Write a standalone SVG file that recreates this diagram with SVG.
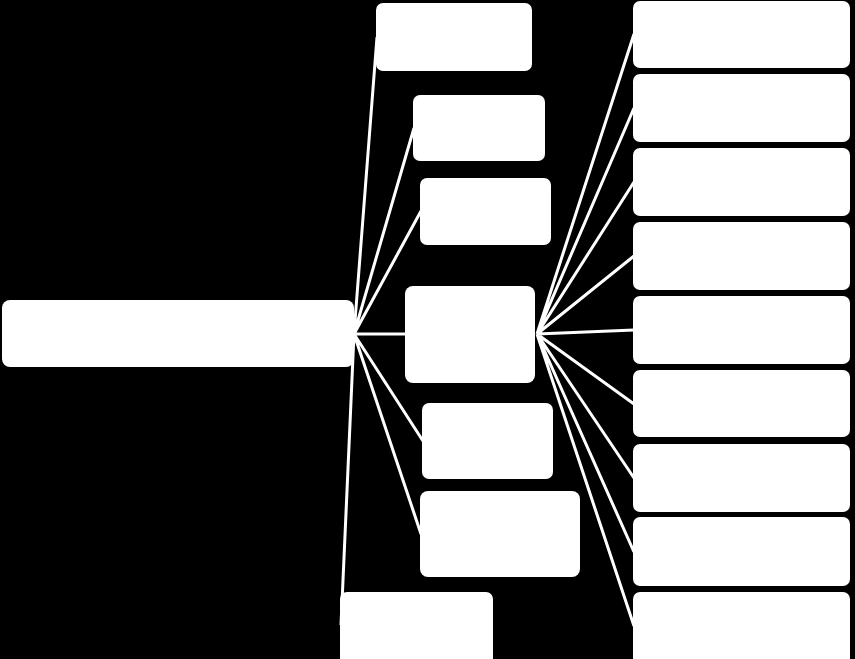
<svg xmlns="http://www.w3.org/2000/svg" width="855" height="659" viewBox="0 0 855 659">
<style>
.n{fill:#fff;stroke:none}
.c{stroke:#fff;stroke-width:3;fill:none}
</style>
<rect width="855" height="659" fill="#000"/>
<g id="connectors">
<path class="c" d="M354 334L377 37M354 334L414 128M354 334L421 211M354 334L406 334M354 334L423 441M354 334L421 534M354 334L341 625"/>
<path class="c" d="M537 334L634 34M537 334L634 108M537 334L634 182M537 334L634 256M537 334L634 330M537 334L634 404M537 334L634 478M537 334L634 552M537 334L634 626"/>
</g>
<g id="root"><rect class="n" x="2" y="300" width="352" height="67" rx="8"/></g>
<g id="b1"><rect class="n" x="376" y="3" width="156" height="68" rx="7"/></g>
<g id="b2"><rect class="n" x="413" y="95" width="132" height="66" rx="7"/></g>
<g id="b3"><rect class="n" x="420" y="178" width="131" height="67" rx="7"/></g>
<g id="hub"><rect class="n" x="405" y="286" width="130" height="97" rx="8"/></g>
<g id="b5"><rect class="n" x="422" y="403" width="131" height="76" rx="7"/></g>
<g id="b6"><rect class="n" x="420" y="491" width="160" height="86" rx="8"/></g>
<g id="b7"><rect class="n" x="340" y="592" width="153" height="75" rx="7"/></g>
<g id="r1"><rect class="n" x="633" y="1" width="217" height="67" rx="7"/></g>
<g id="r2"><rect class="n" x="633" y="74" width="217" height="68" rx="7"/></g>
<g id="r3"><rect class="n" x="633" y="148" width="217" height="68" rx="7"/></g>
<g id="r4"><rect class="n" x="633" y="222" width="217" height="68" rx="7"/></g>
<g id="r5"><rect class="n" x="633" y="296" width="217" height="68" rx="7"/></g>
<g id="r6"><rect class="n" x="633" y="370" width="217" height="67" rx="7"/></g>
<g id="r7"><rect class="n" x="633" y="444" width="217" height="68" rx="7"/></g>
<g id="r8"><rect class="n" x="633" y="517" width="217" height="69" rx="7"/></g>
<g id="r9"><rect class="n" x="633" y="592" width="217" height="75" rx="7"/></g>
</svg>
